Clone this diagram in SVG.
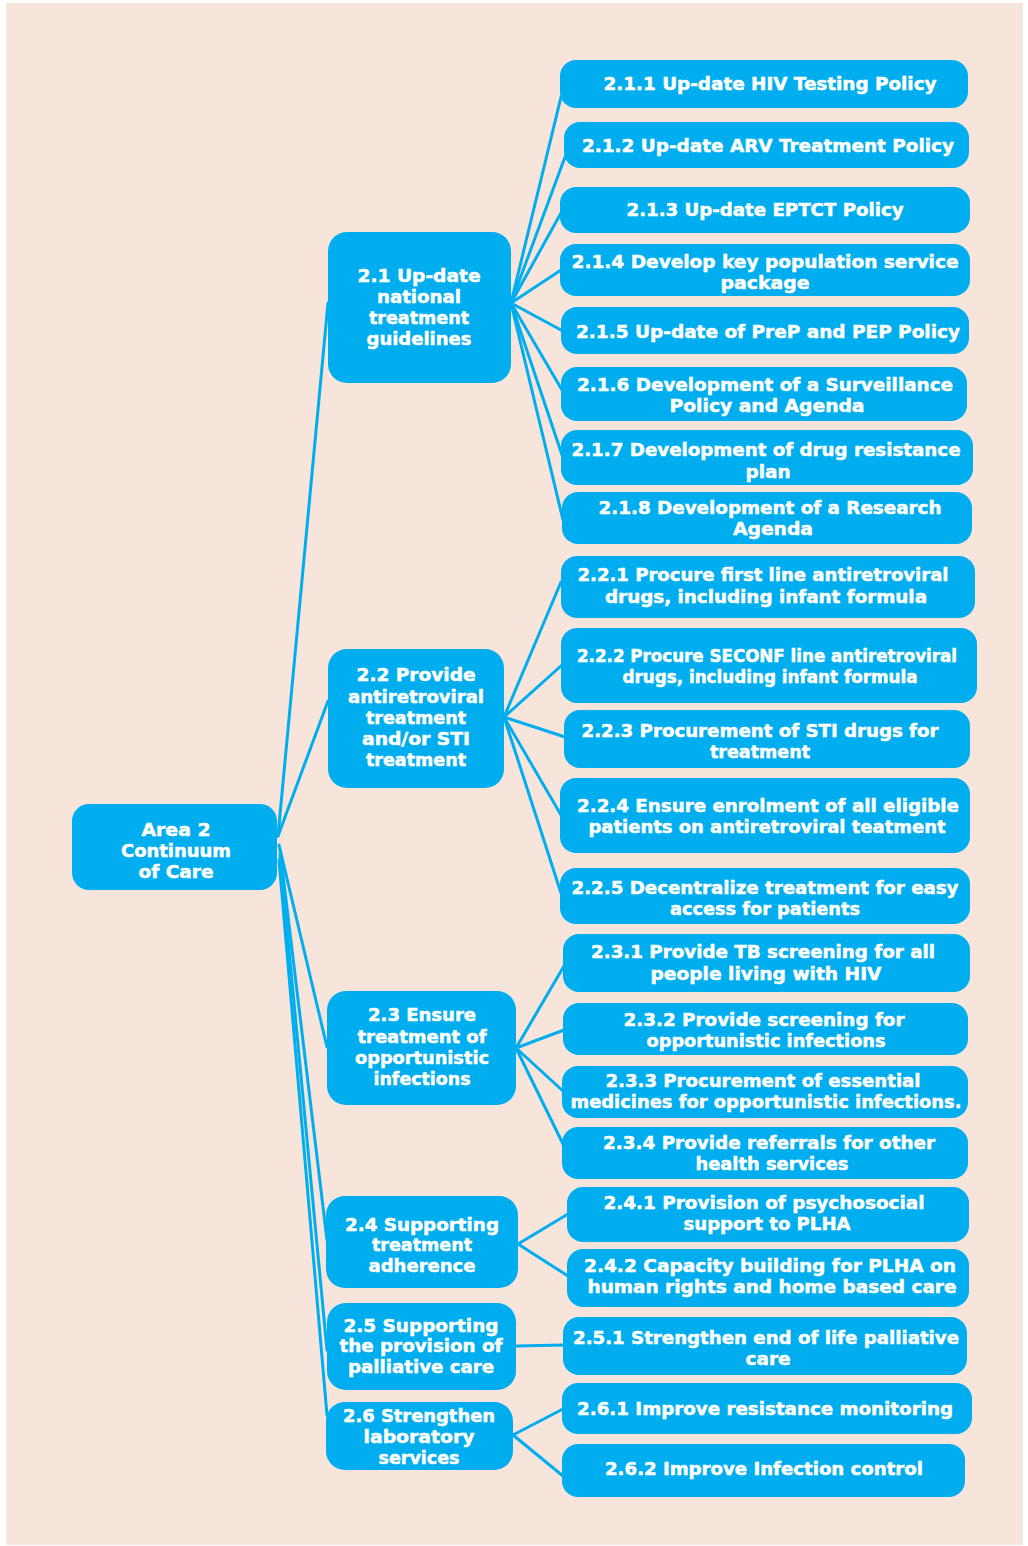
<svg xmlns="http://www.w3.org/2000/svg" width="1028" height="1546" viewBox="0 0 1028 1546">
<style>
.bg{fill:#F7E5DC}
.n rect{fill:#00AEEF}
.n text{font-family:"DejaVu Sans","Liberation Sans",sans-serif;font-weight:bold;font-size:18px;fill:#FFFFFF;stroke:#FFFFFF;stroke-width:0.5px;text-anchor:middle}
.n text.s{font-size:17px}
.c line{stroke:#00AEEF;stroke-width:3;stroke-linecap:round}
</style>
<rect class="bg" x="6" y="3" width="1017" height="1542"/>
<g id="connectors" class="c">
<line x1="278" y1="836" x2="328" y2="303"/>
<line x1="278" y1="836" x2="328" y2="701"/>
<line x1="279" y1="845" x2="327" y2="1047"/>
<line x1="280" y1="850" x2="327" y2="1240"/>
<line x1="280" y1="855" x2="327" y2="1350"/>
<line x1="279" y1="860" x2="327" y2="1415"/>
<line x1="511" y1="303" x2="561" y2="97"/>
<line x1="511" y1="303" x2="565" y2="157"/>
<line x1="511" y1="303" x2="561" y2="213"/>
<line x1="511" y1="303" x2="561" y2="270"/>
<line x1="511" y1="303" x2="561" y2="330"/>
<line x1="511" y1="303" x2="562" y2="390"/>
<line x1="511" y1="303" x2="562" y2="455"/>
<line x1="511" y1="303" x2="563" y2="520"/>
<line x1="504" y1="717" x2="561" y2="582"/>
<line x1="504" y1="717" x2="562" y2="665"/>
<line x1="504" y1="717" x2="565" y2="737"/>
<line x1="504" y1="717" x2="561" y2="815"/>
<line x1="504" y1="717" x2="561" y2="893"/>
<line x1="516" y1="1048" x2="564" y2="966"/>
<line x1="516" y1="1048" x2="564" y2="1030"/>
<line x1="516" y1="1048" x2="563" y2="1091"/>
<line x1="516" y1="1048" x2="563" y2="1144"/>
<line x1="518" y1="1244" x2="568" y2="1214"/>
<line x1="518" y1="1244" x2="568" y2="1276"/>
<line x1="516" y1="1346" x2="564" y2="1345"/>
<line x1="513" y1="1435" x2="563" y2="1409"/>
<line x1="513" y1="1435" x2="563" y2="1476"/>
</g>
<g id="root" class="n">
<rect x="72" y="804" width="205" height="86" rx="17"/>
<text x="176" y="836" textLength="69" lengthAdjust="spacingAndGlyphs">Area 2</text>
<text x="176" y="857" textLength="110" lengthAdjust="spacingAndGlyphs">Continuum</text>
<text x="176" y="878" textLength="75" lengthAdjust="spacingAndGlyphs">of Care</text>
</g>
<g id="n2_1" class="n">
<rect x="328" y="232" width="183" height="151" rx="19"/>
<text x="419" y="282" textLength="123" lengthAdjust="spacingAndGlyphs">2.1 Up-date</text>
<text x="419" y="303" textLength="84" lengthAdjust="spacingAndGlyphs">national</text>
<text x="419" y="324" textLength="100" lengthAdjust="spacingAndGlyphs">treatment</text>
<text x="419" y="345" textLength="105" lengthAdjust="spacingAndGlyphs">guidelines</text>
</g>
<g id="n2_2" class="n">
<rect x="328" y="649" width="176" height="139" rx="19"/>
<text x="416" y="681" textLength="119" lengthAdjust="spacingAndGlyphs">2.2 Provide</text>
<text x="416" y="703" textLength="136" lengthAdjust="spacingAndGlyphs">antiretroviral</text>
<text x="416" y="724" textLength="100" lengthAdjust="spacingAndGlyphs">treatment</text>
<text x="416" y="745" textLength="108" lengthAdjust="spacingAndGlyphs">and/or STI</text>
<text x="416" y="766" textLength="100" lengthAdjust="spacingAndGlyphs">treatment</text>
</g>
<g id="n2_3" class="n">
<rect x="327" y="991" width="189" height="114" rx="19"/>
<text x="422" y="1021" textLength="108" lengthAdjust="spacingAndGlyphs">2.3 Ensure</text>
<text x="422" y="1043" textLength="129" lengthAdjust="spacingAndGlyphs">treatment of</text>
<text x="422" y="1064" textLength="134" lengthAdjust="spacingAndGlyphs">opportunistic</text>
<text x="422" y="1085" textLength="97" lengthAdjust="spacingAndGlyphs">infections</text>
</g>
<g id="n2_4" class="n">
<rect x="326" y="1196" width="192" height="92" rx="19"/>
<text x="422" y="1231" textLength="154" lengthAdjust="spacingAndGlyphs">2.4 Supporting</text>
<text x="422" y="1251" textLength="100" lengthAdjust="spacingAndGlyphs">treatment</text>
<text x="422" y="1272" textLength="107" lengthAdjust="spacingAndGlyphs">adherence</text>
</g>
<g id="n2_5" class="n">
<rect x="327" y="1303" width="189" height="87" rx="19"/>
<text x="421" y="1332" textLength="155" lengthAdjust="spacingAndGlyphs">2.5 Supporting</text>
<text x="421" y="1352" textLength="163" lengthAdjust="spacingAndGlyphs">the provision of</text>
<text x="421" y="1373" textLength="146" lengthAdjust="spacingAndGlyphs">palliative care</text>
</g>
<g id="n2_6" class="n">
<rect x="326" y="1402" width="187" height="68" rx="19"/>
<text x="419" y="1422" textLength="152" lengthAdjust="spacingAndGlyphs">2.6 Strengthen</text>
<text x="419" y="1443" textLength="111" lengthAdjust="spacingAndGlyphs">laboratory</text>
<text x="419" y="1464" textLength="81" lengthAdjust="spacingAndGlyphs">services</text>
</g>
<g id="n2_1_1" class="n">
<rect x="560" y="60" width="408" height="48" rx="16"/>
<text x="770" y="90" textLength="333" lengthAdjust="spacingAndGlyphs">2.1.1 Up-date HIV Testing Policy</text>
</g>
<g id="n2_1_2" class="n">
<rect x="564" y="122" width="405" height="46" rx="16"/>
<text x="768" y="152" textLength="372" lengthAdjust="spacingAndGlyphs">2.1.2 Up-date ARV Treatment Policy</text>
</g>
<g id="n2_1_3" class="n">
<rect x="560" y="187" width="410" height="46" rx="16"/>
<text x="765" y="216" textLength="277" lengthAdjust="spacingAndGlyphs">2.1.3 Up-date EPTCT Policy</text>
</g>
<g id="n2_1_4" class="n">
<rect x="560" y="244" width="410" height="52" rx="16"/>
<text x="765" y="268" textLength="387" lengthAdjust="spacingAndGlyphs">2.1.4 Develop key population service</text>
<text x="765" y="289" textLength="89" lengthAdjust="spacingAndGlyphs">package</text>
</g>
<g id="n2_1_5" class="n">
<rect x="561" y="307" width="408" height="47" rx="16"/>
<text x="768" y="338" textLength="384" lengthAdjust="spacingAndGlyphs">2.1.5 Up-date of PreP and PEP Policy</text>
</g>
<g id="n2_1_6" class="n">
<rect x="561" y="367" width="406" height="54" rx="16"/>
<text x="765" y="391" textLength="376" lengthAdjust="spacingAndGlyphs">2.1.6 Development of a Surveillance</text>
<text x="767" y="412" textLength="195" lengthAdjust="spacingAndGlyphs">Policy and Agenda</text>
</g>
<g id="n2_1_7" class="n">
<rect x="561" y="430" width="412" height="55" rx="16"/>
<text x="766" y="456" textLength="389" lengthAdjust="spacingAndGlyphs">2.1.7 Development of drug resistance</text>
<text x="768" y="478" textLength="45" lengthAdjust="spacingAndGlyphs">plan</text>
</g>
<g id="n2_1_8" class="n">
<rect x="562" y="492" width="410" height="52" rx="16"/>
<text x="770" y="514" textLength="343" lengthAdjust="spacingAndGlyphs">2.1.8 Development of a Research</text>
<text x="773" y="535" textLength="80" lengthAdjust="spacingAndGlyphs">Agenda</text>
</g>
<g id="n2_2_1" class="n">
<rect x="561" y="556" width="414" height="62" rx="16"/>
<text x="763" y="581" textLength="371" lengthAdjust="spacingAndGlyphs">2.2.1 Procure first line antiretroviral</text>
<text x="766" y="603" textLength="322" lengthAdjust="spacingAndGlyphs">drugs, including infant formula</text>
</g>
<g id="n2_2_2" class="n">
<rect x="561" y="628" width="416" height="75" rx="16"/>
<text class="s" x="767" y="662" textLength="380" lengthAdjust="spacingAndGlyphs">2.2.2 Procure SECONF line antiretroviral</text>
<text class="s" x="770" y="683" textLength="295" lengthAdjust="spacingAndGlyphs">drugs, including infant formula</text>
</g>
<g id="n2_2_3" class="n">
<rect x="564" y="710" width="406" height="58" rx="16"/>
<text x="760" y="737" textLength="357" lengthAdjust="spacingAndGlyphs">2.2.3 Procurement of STI drugs for</text>
<text x="760" y="758" textLength="100" lengthAdjust="spacingAndGlyphs">treatment</text>
</g>
<g id="n2_2_4" class="n">
<rect x="560" y="778" width="410" height="75" rx="16"/>
<text x="768" y="812" textLength="382" lengthAdjust="spacingAndGlyphs">2.2.4 Ensure enrolment of all eligible</text>
<text x="767" y="833" textLength="357" lengthAdjust="spacingAndGlyphs">patients on antiretroviral teatment</text>
</g>
<g id="n2_2_5" class="n">
<rect x="560" y="868" width="410" height="56" rx="16"/>
<text x="765" y="894" textLength="387" lengthAdjust="spacingAndGlyphs">2.2.5 Decentralize treatment for easy</text>
<text x="765" y="915" textLength="190" lengthAdjust="spacingAndGlyphs">access for patients</text>
</g>
<g id="n2_3_1" class="n">
<rect x="563" y="934" width="407" height="58" rx="16"/>
<text x="763" y="958" textLength="344" lengthAdjust="spacingAndGlyphs">2.3.1 Provide TB screening for all</text>
<text x="766" y="980" textLength="231" lengthAdjust="spacingAndGlyphs">people living with HIV</text>
</g>
<g id="n2_3_2" class="n">
<rect x="563" y="1003" width="405" height="52" rx="16"/>
<text x="764" y="1026" textLength="281" lengthAdjust="spacingAndGlyphs">2.3.2 Provide screening for</text>
<text x="766" y="1047" textLength="239" lengthAdjust="spacingAndGlyphs">opportunistic infections</text>
</g>
<g id="n2_3_3" class="n">
<rect x="562" y="1066" width="406" height="52" rx="16"/>
<text x="763" y="1087" textLength="315" lengthAdjust="spacingAndGlyphs">2.3.3 Procurement of essential</text>
<text x="766" y="1108" textLength="391" lengthAdjust="spacingAndGlyphs">medicines for opportunistic infections.</text>
</g>
<g id="n2_3_4" class="n">
<rect x="562" y="1127" width="406" height="52" rx="16"/>
<text x="769" y="1149" textLength="332" lengthAdjust="spacingAndGlyphs">2.3.4 Provide referrals for other</text>
<text x="772" y="1170" textLength="153" lengthAdjust="spacingAndGlyphs">health services</text>
</g>
<g id="n2_4_1" class="n">
<rect x="567" y="1187" width="402" height="55" rx="16"/>
<text x="764" y="1209" textLength="321" lengthAdjust="spacingAndGlyphs">2.4.1 Provision of psychosocial</text>
<text x="767" y="1230" textLength="167" lengthAdjust="spacingAndGlyphs">support to PLHA</text>
</g>
<g id="n2_4_2" class="n">
<rect x="567" y="1249" width="402" height="58" rx="16"/>
<text x="770" y="1272" textLength="372" lengthAdjust="spacingAndGlyphs">2.4.2 Capacity building for PLHA on</text>
<text x="772" y="1293" textLength="369" lengthAdjust="spacingAndGlyphs">human rights and home based care</text>
</g>
<g id="n2_5_1" class="n">
<rect x="563" y="1317" width="404" height="58" rx="16"/>
<text x="766" y="1344" textLength="386" lengthAdjust="spacingAndGlyphs">2.5.1 Strengthen end of life palliative</text>
<text x="768" y="1365" textLength="45" lengthAdjust="spacingAndGlyphs">care</text>
</g>
<g id="n2_6_1" class="n">
<rect x="562" y="1383" width="410" height="51" rx="16"/>
<text x="765" y="1415" textLength="376" lengthAdjust="spacingAndGlyphs">2.6.1 Improve resistance monitoring</text>
</g>
<g id="n2_6_2" class="n">
<rect x="562" y="1444" width="403" height="53" rx="16"/>
<text x="764" y="1475" textLength="318" lengthAdjust="spacingAndGlyphs">2.6.2 Improve Infection control</text>
</g>
</svg>
